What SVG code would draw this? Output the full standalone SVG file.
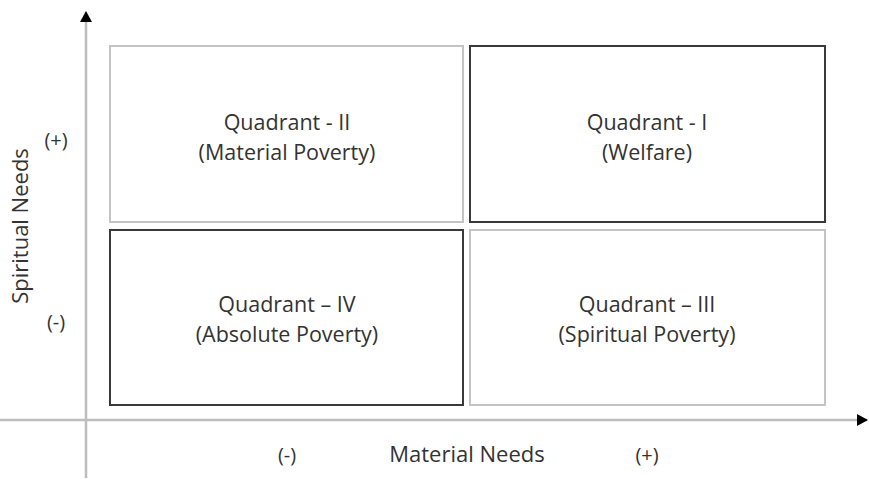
<svg xmlns="http://www.w3.org/2000/svg" width="869" height="479" viewBox="0 0 869 479">
<style>
.t{font-family:"Open Sans","Noto Sans","Liberation Sans",sans-serif;font-size:22px;fill:#333;text-anchor:middle}
.q{font-size:21.5px}
.light{fill:#fff;stroke:#c4c4c4;stroke-width:2}
.dark{fill:#fff;stroke:#3a3a3a;stroke-width:2}
.axis{stroke:#bdbdbd;stroke-width:2.5;fill:none}
</style>
<defs>
<marker id="ah" markerWidth="12" markerHeight="12" refX="10" refY="6" orient="auto" markerUnits="userSpaceOnUse">
<path d="M0,0 L11,6 L0,12 Z" fill="#000"/>
</marker>
</defs>
<rect width="869" height="479" fill="#fff"/>
<g id="connectors">
<line class="axis" x1="86" y1="478" x2="86" y2="12" marker-end="url(#ah)"/>
<line class="axis" x1="0" y1="420" x2="867" y2="420" marker-end="url(#ah)"/>
</g>
<g id="q2">
<rect class="light" x="110" y="46" width="353" height="176"/>
<text class="t q" x="287" y="130">Quadrant - II</text>
<text class="t q" x="287" y="160">(Material Poverty)</text>
</g>
<g id="q1">
<rect class="dark" x="470" y="46" width="355" height="176"/>
<text class="t q" x="647" y="130">Quadrant - I</text>
<text class="t q" x="647" y="160">(Welfare)</text>
</g>
<g id="q4">
<rect class="dark" x="110" y="230" width="353" height="175"/>
<text class="t q" x="287" y="312">Quadrant – IV</text>
<text class="t q" x="287" y="342">(Absolute Poverty)</text>
</g>
<g id="q3">
<rect class="light" x="470" y="230" width="355" height="175"/>
<text class="t q" x="647" y="312">Quadrant – III</text>
<text class="t q" x="647" y="342">(Spiritual Poverty)</text>
</g>
<g id="labels">
<text class="t" x="56" y="147" style="font-size:20px">(+)</text>
<text class="t" x="56" y="329" style="font-size:20px">(-)</text>
<text class="t" transform="translate(28,226) rotate(-90)">Spiritual Needs</text>
<text class="t" x="287" y="462" style="font-size:20px">(-)</text>
<text class="t" x="467" y="462">Material Needs</text>
<text class="t" x="647" y="462" style="font-size:20px">(+)</text>
</g>
</svg>
